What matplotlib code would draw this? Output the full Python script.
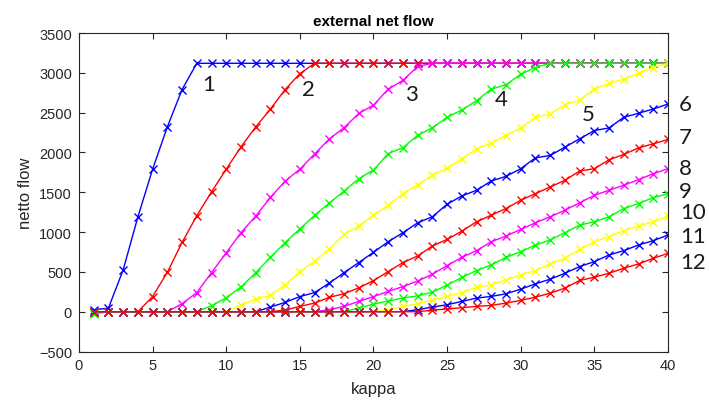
import matplotlib
matplotlib.use("Agg")
import matplotlib.pyplot as plt

kappa = list(range(1, 41))

flow_1 = [25, 45, 525, 1190, 1790, 2320, 2790, 3120, 3120, 3120,
          3120, 3120, 3120, 3120, 3120, 3120, 3120, 3120, 3120, 3120,
          3120, 3120, 3120, 3120, 3120, 3120, 3120, 3120, 3120, 3120,
          3120, 3120, 3120, 3120, 3120, 3120, 3120, 3120, 3120, 3120]
flow_2 = [0, 0, 0, 0, 190, 495, 870, 1205, 1505, 1790,
          2070, 2320, 2545, 2790, 2990, 3120, 3120, 3120, 3120, 3120,
          3120, 3120, 3120, 3120, 3120, 3120, 3120, 3120, 3120, 3120,
          3120, 3120, 3120, 3120, 3120, 3120, 3120, 3120, 3120, 3120]
flow_3 = [0, 0, 0, 0, 0, 0, 100, 240, 490, 740,
          992, 1200, 1435, 1640, 1790, 1980, 2170, 2310, 2490, 2595,
          2795, 2905, 3080, 3120, 3120, 3120, 3120, 3120, 3120, 3120,
          3120, 3120, 3120, 3120, 3120, 3120, 3120, 3120, 3120, 3120]
flow_4 = [-30, 0, 0, 0, 0, 0, 0, 0, 75, 175,
          310, 490, 683, 868, 1040, 1210, 1365, 1515, 1670, 1780,
          1985, 2060, 2215, 2310, 2442, 2533, 2650, 2796, 2850, 2983,
          3067, 3120, 3120, 3120, 3120, 3120, 3120, 3120, 3120, 3120]
flow_5 = [0, 0, 0, 0, 0, 0, 0, 0, 0, 0,
          85, 155, 205, 338, 500, 635, 787, 970, 1075, 1210,
          1337, 1480, 1596, 1712, 1804, 1921, 2046, 2117, 2212, 2308,
          2442, 2483, 2600, 2658, 2796, 2867, 2921, 2992, 3067, 3120]
flow_6 = [0, 0, 0, 0, 0, 0, 0, 0, 0, 0,
          0, 0, 58, 117, 190, 240, 360, 490, 617, 746,
          879, 992, 1117, 1192, 1350, 1454, 1525, 1642, 1700, 1796,
          1933, 1962, 2067, 2171, 2275, 2308, 2442, 2492, 2546, 2608]
flow_7 = [0, 0, 0, 0, 0, 0, 0, 0, 0, 0,
          0, 0, 0, 20, 67, 108, 181, 225, 300, 390,
          504, 617, 700, 825, 908, 1012, 1129, 1212, 1296, 1400,
          1483, 1567, 1650, 1767, 1796, 1908, 1975, 2058, 2108, 2163]
flow_8 = [0, 0, 0, 0, 0, 0, 0, 0, 0, 0,
          0, 0, 0, 0, 0, 0, 25, 67, 129, 190,
          255, 315, 385, 470, 580, 683, 767, 879, 950, 1033,
          1117, 1192, 1275, 1367, 1462, 1525, 1588, 1658, 1733, 1796]
flow_9 = [0, 0, 0, 0, 0, 0, 0, 0, 0, 0,
          0, 0, 0, 0, 0, 0, 0, 0, 46, 95,
          135, 171, 200, 245, 335, 430, 517, 588, 683, 754,
          838, 900, 992, 1088, 1129, 1192, 1296, 1358, 1433, 1483]
flow_10 = [0, 0, 0, 0, 0, 0, 0, 0, 0, 0,
           0, 0, 0, 0, 0, 0, 0, 0, 0, 0,
           25, 67, 100, 145, 192, 240, 308, 338, 400, 463,
           517, 600, 671, 783, 879, 942, 1017, 1075, 1129, 1200]
flow_11 = [0, 0, 0, 0, 0, 0, 0, 0, 0, 0,
           0, 0, 0, 0, 0, 0, 0, 0, 0, 0,
           0, 0, 25, 58, 88, 129, 171, 192, 225, 283,
           350, 408, 483, 567, 629, 713, 767, 838, 892, 963]
flow_12 = [0, 0, 0, 0, 0, 0, 0, 0, 0, 0,
           0, 0, 0, 0, 0, 0, 0, 0, 0, 0,
           0, 0, 0, 20, 35, 50, 67, 79, 108, 142,
           183, 233, 296, 392, 433, 483, 546, 600, 671, 733]

series = [flow_1, flow_2, flow_3, flow_4, flow_5, flow_6,
          flow_7, flow_8, flow_9, flow_10, flow_11, flow_12]
series_colors = ["#0000ff", "#ff0000", "#ff00ff", "#00ff00", "#ffff00",
                 "#0000ff", "#ff0000", "#ff00ff", "#00ff00", "#ffff00",
                 "#0000ff", "#ff0000"]

label_text = ["1", "2", "3", "4", "5", "6", "7", "8", "9", "10", "11", "12"]
label_x = [8.8, 15.6, 22.6, 28.7, 34.6, 41.2, 41.2, 41.2, 41.2, 41.7, 41.7, 41.7]
label_y = [2860, 2795, 2732, 2670, 2480, 2607, 2192, 1803, 1514, 1250, 949, 623]

x_ticks = [0, 5, 10, 15, 20, 25, 30, 35, 40]
y_ticks = [-500, 0, 500, 1000, 1500, 2000, 2500, 3000, 3500]

fig = plt.figure(figsize=(7.09, 4.10), dpi=100)
ax = fig.add_axes([0.1114, 0.1402, 0.8307, 0.7768])

for vals, col in zip(series, series_colors):
    ax.plot(kappa, vals, color=col, lw=1.0, marker="x", markersize=6,
            markeredgewidth=1.0)

for t, lx, ly in zip(label_text, label_x, label_y):
    ax.text(lx, ly, t, fontsize=16, family="Lato", color="#1a1a1a",
            ha="center", va="center", clip_on=False)

ax.set_xlim(0, 40)
ax.set_ylim(-500, 3500)
ax.set_xticks(x_ticks)
ax.set_yticks(y_ticks)
ax.tick_params(direction="in", length=4, width=0.8, colors="#262626",
               top=True, right=True, labelsize=10.5, pad=5)
for lab in ax.get_xticklabels() + ax.get_yticklabels():
    lab.set_family("Liberation Sans")
for s in ax.spines.values():
    s.set_color("#262626")
    s.set_linewidth(0.8)

ax.set_xlabel("kappa", fontsize=12, family="Liberation Sans", color="#262626",
              labelpad=6)
ax.set_ylabel("netto flow", fontsize=12, family="Liberation Sans",
              color="#262626", labelpad=4)
ax.set_title("external net flow", fontsize=11, fontweight="bold",
             family="Liberation Sans", color="#000000", pad=6)

fig.savefig("out.png", dpi=100)
